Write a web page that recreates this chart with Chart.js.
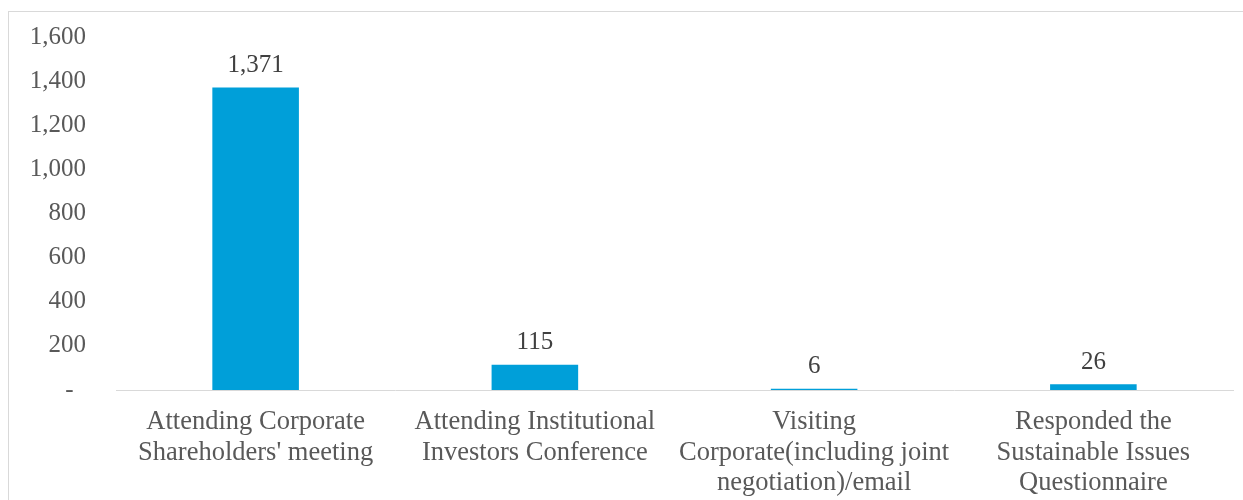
<!DOCTYPE html>
<html>
<head>
<meta charset="utf-8">
<script src="https://cdn.jsdelivr.net/npm/chart.js@4"></script>
<style>
  html, body { margin: 0; padding: 0; background: #fff; }
  #wrap { position: relative; width: 1243px; height: 500px; overflow: hidden; }
  #frame { position: absolute; left: 8px; top: 11px; width: 1300px; height: 600px; border: 1px solid #d9d9d9; box-sizing: border-box; }
  #chart { position: absolute; left: 0; top: 0; }
</style>
</head>
<body>
<div id="wrap">
  <div id="frame"></div>
  <canvas id="chart" width="1243" height="500"></canvas>
</div>
<script>
// data
const categories = [
  ["Attending Corporate", "Shareholders' meeting"],
  ["Attending Institutional", "Investors Conference"],
  ["Visiting", "Corporate(including joint", "negotiation)/email"],
  ["Responded the", "Sustainable Issues", "Questionnaire"]
];
const counts = [1371, 115, 6, 26];
const yTicks = [0, 200, 400, 600, 800, 1000, 1200, 1400, 1600];

const FONT = "'Liberation Serif', 'Times New Roman', serif";

// draw the value above each bar
const valueLabels = {
  id: 'valueLabels',
  afterDatasetsDraw(chart) {
    const ctx = chart.ctx;
    const meta = chart.getDatasetMeta(0);
    ctx.save();
    ctx.font = "25px " + FONT;
    ctx.fillStyle = '#404040';
    ctx.textAlign = 'center';
    ctx.textBaseline = 'middle';
    meta.data.forEach((bar, i) => {
      ctx.fillText(counts[i].toLocaleString('en-US'), bar.x, bar.y - 22);
    });
    ctx.restore();
  }
};

new Chart(document.getElementById('chart'), {
  type: 'bar',
  data: {
    labels: categories,
    datasets: [{
      data: counts,
      backgroundColor: '#009FD9',
      categoryPercentage: 1,
      barPercentage: 0.31
    }]
  },
  options: {
    responsive: false,
    animation: false,
    layout: { padding: { top: 0, right: 10, left: 0, bottom: 0 } },
    plugins: {
      legend: { display: false },
      tooltip: { enabled: false }
    },
    scales: {
      x: {
        grid: { display: false, drawTicks: false },
        border: { display: true, color: '#d9d9d9', width: 1 },
        ticks: {
          color: '#595959',
          font: { family: FONT, size: 26.5, lineHeight: 1.15 },
          padding: 17,
          maxRotation: 0,
          autoSkip: false
        },
        afterFit(scale) { scale.height = 110; }
      },
      y: {
        min: 0,
        max: 1600,
        grid: { display: false, drawTicks: false },
        border: { display: false },
        afterBuildTicks(scale) { scale.ticks = yTicks.map(v => ({ value: v })); },
        ticks: {
          color: '#595959',
          font: { family: FONT, size: 25 },
          padding: 30,
          // accounting style: zero shown as a dash
          callback: v => v === 0 ? '-  ' : v.toLocaleString('en-US')
        },
        afterFit(scale) {
          scale.width = 116;
          scale.paddingTop = 37;
          scale.paddingBottom = 0;
        }
      }
    }
  },
  plugins: [valueLabels]
});
</script>
</body>
</html>
